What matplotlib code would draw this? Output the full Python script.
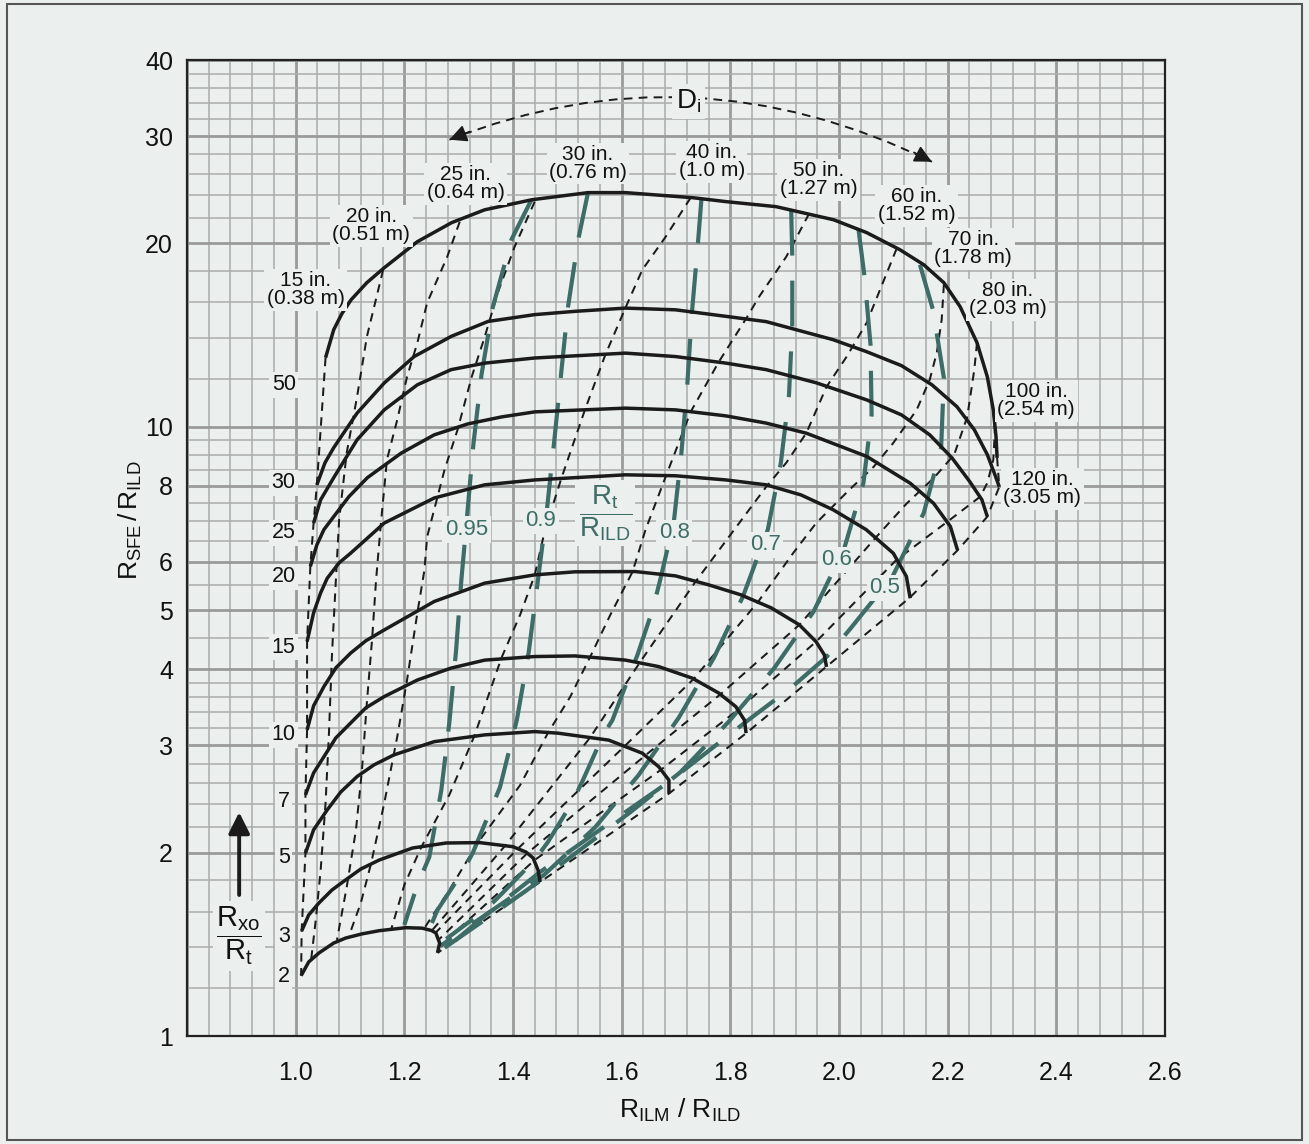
import matplotlib
matplotlib.use('Agg')
import matplotlib.pyplot as plt
import numpy as np
from matplotlib.patches import Rectangle, FancyArrowPatch, PathPatch
from matplotlib.path import Path
from matplotlib.ticker import NullLocator

plt.rcParams['font.family'] = ['Liberation Sans', 'DejaVu Sans']
plt.rcParams['mathtext.fontset'] = 'custom'
plt.rcParams['mathtext.rm'] = 'Liberation Sans'
plt.rcParams['mathtext.it'] = 'Liberation Sans'
plt.rcParams['mathtext.bf'] = 'Liberation Sans:bold'

BG = '#ebf0ee'
GREEN = '#3d6d66'
INK = '#1b1b1b'

# ---------------- data: Rxo/Rt curves (solid) ----------------
rxo_labels = ['2', '3', '5', '7', '10', '15', '20', '25', '30', '50']
rxo_label_y = [1.250, 1.459, 1.967, 2.43, 3.12, 4.35, 5.67, 6.70, 8.09, 11.72]

rxo2_x = [1.010, 1.024, 1.043, 1.070, 1.092, 1.122, 1.154, 1.203, 1.233, 1.250, 1.258, 1.265, 1.261]
rxo2_y = [1.256, 1.323, 1.369, 1.421, 1.448, 1.471, 1.489, 1.506, 1.503, 1.490, 1.476, 1.421, 1.369]
rxo3_x = [1.011, 1.024, 1.043, 1.067, 1.092, 1.120, 1.154, 1.215, 1.277, 1.339, 1.400, 1.424, 1.437, 1.446, 1.450]
rxo3_y = [1.487, 1.580, 1.654, 1.737, 1.804, 1.880, 1.945, 2.035, 2.074, 2.077, 2.045, 2.004, 1.960, 1.873, 1.790]
rxo5_x = [1.018, 1.033, 1.058, 1.083, 1.113, 1.144, 1.181, 1.255, 1.348, 1.440, 1.483, 1.576, 1.638, 1.668, 1.687, 1.687]
rxo5_y = [1.995, 2.180, 2.350, 2.515, 2.666, 2.786, 2.894, 3.042, 3.121, 3.160, 3.141, 3.060, 2.912, 2.768, 2.630, 2.502]
rxo7_x = [1.018, 1.033, 1.052, 1.074, 1.101, 1.129, 1.163, 1.224, 1.286, 1.348, 1.440, 1.514, 1.607, 1.668, 1.730, 1.779, 1.810, 1.826, 1.829]
rxo7_y = [2.487, 2.703, 2.874, 3.086, 3.263, 3.456, 3.607, 3.840, 4.017, 4.140, 4.196, 4.206, 4.140, 4.040, 3.867, 3.654, 3.473, 3.300, 3.141]
rxo10_x = [1.021, 1.033, 1.052, 1.074, 1.101, 1.129, 1.163, 1.255, 1.348, 1.440, 1.514, 1.625, 1.699, 1.760, 1.819, 1.875, 1.927, 1.958, 1.973, 1.977]
rxo10_y = [3.180, 3.483, 3.746, 4.021, 4.250, 4.453, 4.640, 5.167, 5.538, 5.714, 5.780, 5.786, 5.692, 5.503, 5.300, 5.045, 4.731, 4.436, 4.223, 4.035]
rxo15_x = [1.021, 1.033, 1.046, 1.058, 1.080, 1.101, 1.163, 1.255, 1.348, 1.440, 1.607, 1.699, 1.792, 1.866, 1.930, 1.989, 2.050, 2.100, 2.124, 2.131]
rxo15_y = [4.44, 4.95, 5.34, 5.64, 5.98, 6.20, 6.95, 7.64, 8.03, 8.18, 8.34, 8.31, 8.18, 8.03, 7.73, 7.31, 6.78, 6.20, 5.68, 5.23]
rxo20_x = [1.027, 1.039, 1.052, 1.070, 1.098, 1.132, 1.194, 1.255, 1.317, 1.379, 1.440, 1.607, 1.699, 1.792, 1.866, 1.940, 2.051, 2.131, 2.174, 2.205, 2.218]
rxo20_y = [5.90, 6.40, 6.78, 7.12, 7.68, 8.25, 9.05, 9.70, 10.11, 10.38, 10.58, 10.73, 10.66, 10.42, 10.14, 9.76, 8.94, 8.08, 7.49, 6.86, 6.28]
rxo25_x = [1.033, 1.046, 1.070, 1.113, 1.163, 1.224, 1.286, 1.348, 1.440, 1.607, 1.699, 1.792, 1.866, 1.958, 2.051, 2.115, 2.167, 2.208, 2.241, 2.263, 2.273]
rxo25_y = [6.95, 7.59, 8.25, 9.52, 10.66, 11.72, 12.41, 12.72, 12.97, 13.21, 13.04, 12.72, 12.41, 11.81, 11.07, 10.46, 9.70, 8.89, 8.12, 7.59, 7.12]
rxo30_x = [1.039, 1.054, 1.070, 1.113, 1.163, 1.218, 1.286, 1.354, 1.440, 1.514, 1.607, 1.699, 1.792, 1.866, 1.989, 2.051, 2.115, 2.171, 2.217, 2.249, 2.273, 2.287, 2.295]
rxo30_y = [8.03, 8.73, 9.24, 10.53, 11.80, 13.04, 14.07, 14.89, 15.28, 15.47, 15.66, 15.56, 15.18, 14.88, 13.90, 13.28, 12.60, 11.72, 10.79, 9.89, 9.00, 8.34, 7.97]
rxo50_x = [1.055, 1.063, 1.070, 1.085, 1.102, 1.131, 1.163, 1.224, 1.287, 1.348, 1.435, 1.538, 1.607, 1.731, 1.792, 1.884, 1.990, 2.051, 2.112, 2.156, 2.193, 2.223, 2.254, 2.273, 2.284, 2.289, 2.291]
rxo50_y = [12.98, 13.74, 14.43, 15.33, 16.16, 17.24, 18.24, 20.13, 21.63, 22.71, 23.59, 24.23, 24.23, 23.77, 23.42, 22.98, 21.87, 20.83, 19.53, 18.45, 17.24, 15.74, 13.74, 12.08, 10.66, 9.63, 8.89]

# ---------------- data: Di curves (black dashed) ----------------
di15_x = [1.055, 1.039, 1.033, 1.027, 1.021, 1.021, 1.018, 1.018, 1.011, 1.010]
di15_y = [12.98, 8.03, 6.95, 5.90, 4.44, 3.18, 2.49, 1.995, 1.487, 1.256]
di20_x = [1.161, 1.131, 1.113, 1.094, 1.080, 1.074, 1.067, 1.061, 1.055, 1.046, 1.037, 1.028]
di20_y = [18.10, 14.05, 11.20, 9.07, 7.04, 5.61, 4.26, 3.10, 2.41, 1.873, 1.551, 1.323]
di25_x = [1.302, 1.279, 1.242, 1.224, 1.205, 1.187, 1.168, 1.157, 1.148, 1.141, 1.131, 1.122, 1.111, 1.094, 1.076]
di25_y = [21.71, 19.02, 15.98, 13.74, 12.08, 10.27, 8.83, 6.96, 5.61, 4.52, 3.52, 2.73, 2.18, 1.757, 1.438]
di30_x = [1.440, 1.403, 1.372, 1.348, 1.324, 1.298, 1.274, 1.242, 1.237, 1.224, 1.205, 1.187, 1.163, 1.139, 1.120, 1.098]
di30_y = [23.42, 19.75, 16.60, 14.05, 12.08, 9.89, 8.50, 6.60, 5.82, 4.95, 3.84, 3.10, 2.41, 1.923, 1.654, 1.459]
di40_x = [1.727, 1.681, 1.638, 1.607, 1.570, 1.533, 1.490, 1.459, 1.440, 1.413, 1.379, 1.329, 1.283, 1.231, 1.200, 1.176]
di40_y = [23.77, 20.51, 18.10, 15.68, 13.13, 10.70, 8.28, 6.78, 5.71, 4.91, 4.18, 3.11, 2.49, 2.04, 1.77, 1.498]
di50_x = [1.945, 1.903, 1.853, 1.829, 1.779, 1.727, 1.681, 1.644, 1.620, 1.579, 1.542, 1.505, 1.464, 1.413, 1.335, 1.283, 1.237]
di50_y = [22.38, 19.02, 16.35, 15.05, 12.79, 10.58, 8.28, 6.78, 5.78, 4.91, 4.19, 3.60, 3.14, 2.58, 2.074, 1.737, 1.504]
di60_x = [2.106, 2.051, 2.014, 1.977, 1.940, 1.903, 1.866, 1.736, 1.634, 1.542, 1.385, 1.250]
di60_y = [19.60, 14.82, 13.03, 11.63, 9.77, 8.73, 7.97, 5.57, 4.11, 3.09, 2.05, 1.487]
di70_x = [2.193, 2.189, 2.180, 2.167, 2.143, 2.100, 2.064, 2.019, 1.958, 1.916, 1.851, 1.733, 1.607, 1.409, 1.257]
di70_y = [17.11, 14.99, 13.23, 11.95, 10.66, 9.41, 8.60, 7.88, 6.95, 6.21, 5.16, 3.86, 3.00, 2.03, 1.476]
di80_x = [2.254, 2.249, 2.236, 2.212, 2.175, 2.125, 2.069, 1.927, 1.782, 1.644, 1.427, 1.263]
di80_y = [13.74, 12.41, 10.38, 9.00, 8.25, 7.49, 6.60, 4.73, 3.64, 2.89, 1.998, 1.438]
di100_x = [2.284, 2.287, 2.284, 2.273, 2.260, 2.199, 2.106, 1.958, 1.814, 1.671, 1.440, 1.265]
di100_y = [10.66, 9.89, 8.83, 8.09, 7.68, 6.98, 6.05, 4.44, 3.43, 2.73, 1.945, 1.405]
di120_x = [2.291, 2.295, 2.273, 2.219, 2.130, 1.977, 1.829, 1.687, 1.450, 1.261]
di120_y = [8.89, 7.97, 7.12, 6.28, 5.24, 4.04, 3.14, 2.50, 1.79, 1.369]

di_labels = ['15 in.\n(0.38 m)', '20 in.\n(0.51 m)', '25 in.\n(0.64 m)', '30 in.\n(0.76 m)',
             '40 in.\n(1.0 m)', '50 in.\n(1.27 m)', '60 in.\n(1.52 m)', '70 in.\n(1.78 m)',
             '80 in.\n(2.03 m)', '100 in.\n(2.54 m)', '120 in.\n(3.05 m)']
di_label_x = [1.018, 1.139, 1.313, 1.538, 1.766, 1.962, 2.143, 2.247, 2.310, 2.363, 2.374]
di_label_y = [16.79, 21.38, 25.06, 27.04, 27.23, 25.44, 23.07, 19.60, 16.16, 11.03, 7.91]

# ---------------- data: Rt/RILD curves (green long dash) ----------------
rt095_x = [1.434, 1.397, 1.363, 1.342, 1.327, 1.316, 1.305, 1.295, 1.283, 1.268, 1.246, 1.224, 1.200]
rt095_y = [23.59, 20.28, 15.74, 12.17, 9.34, 7.22, 5.61, 4.27, 3.28, 2.53, 1.967, 1.77, 1.522]
rt09_x = [1.538, 1.520, 1.501, 1.488, 1.475, 1.462, 1.446, 1.429, 1.407, 1.376, 1.326, 1.307, 1.261, 1.246]
rt09_y = [24.23, 20.28, 15.68, 12.08, 9.31, 7.25, 5.61, 4.27, 3.30, 2.56, 1.998, 1.859, 1.610, 1.498]
rt08_x = [1.747, 1.740, 1.729, 1.721, 1.710, 1.696, 1.671, 1.657, 1.629, 1.614, 1.583, 1.566, 1.527, 1.509, 1.464, 1.440, 1.381, 1.351, 1.277]
rt08_y = [23.77, 19.83, 15.28, 11.80, 9.07, 6.98, 5.61, 5.01, 4.22, 3.90, 3.30, 3.12, 2.61, 2.42, 2.08, 1.945, 1.718, 1.616, 1.443]
rt07_x = [1.912, 1.914, 1.914, 1.908, 1.893, 1.869, 1.823, 1.770, 1.705, 1.631, 1.551, 1.457, 1.376, 1.266]
rt07_y = [22.71, 19.02, 14.71, 11.28, 8.73, 6.78, 5.26, 4.18, 3.33, 2.68, 2.20, 1.838, 1.641, 1.405]
rt06_x = [2.036, 2.047, 2.058, 2.060, 2.045, 2.010, 1.953, 1.881, 1.797, 1.708, 1.616, 1.523, 1.431, 1.348, 1.268]
rt06_y = [21.06, 17.63, 13.64, 10.46, 8.09, 6.33, 4.97, 4.02, 3.28, 2.71, 2.33, 2.02, 1.75, 1.551, 1.384]
rt05_x = [2.149, 2.173, 2.193, 2.188, 2.156, 2.099, 2.019, 1.977, 1.912, 1.829, 1.686, 1.560, 1.450, 1.357, 1.268]
rt05_y = [18.45, 15.56, 12.03, 9.24, 7.22, 5.69, 4.64, 4.19, 3.73, 3.28, 2.61, 2.18, 1.859, 1.598, 1.374]

rt_labels = ['0.95', '0.9', '0.8', '0.7', '0.6', '0.5']
rt_label_x = [1.314, 1.451, 1.697, 1.864, 1.995, 2.084]
rt_label_y = [6.78, 7.01, 6.70, 6.40, 6.05, 5.44]

# ---------------- axes ticks ----------------
x_ticks = [1.0, 1.2, 1.4, 1.6, 1.8, 2.0, 2.2, 2.4, 2.6]
x_tick_labels = ['1.0', '1.2', '1.4', '1.6', '1.8', '2.0', '2.2', '2.4', '2.6']
y_ticks = [1, 2, 3, 4, 5, 6, 8, 10, 20, 30, 40]
y_tick_labels = ['1', '2', '3', '4', '5', '6', '8', '10', '20', '30', '40']
y_major_grid = [1, 2, 3, 4, 5, 6, 8, 10, 20, 30, 40]
y_minor_grid = [1.2, 1.4, 1.6, 1.8, 2.2, 2.4, 2.6, 2.8, 3.2, 3.4, 3.6, 3.8,
                4.5, 5.5, 6.5, 7, 7.5, 8.5, 9, 9.5, 12, 14, 16, 18,
                22, 24, 26, 28, 32, 34, 36, 38]

# ---------------- figure ----------------
W, H = 1309, 1144
fig = plt.figure(figsize=(W / 100, H / 100), dpi=100, facecolor=BG)
ax = fig.add_axes([187 / W, 1 - 1036 / H, (1165 - 187) / W, (1036 - 60) / H])
ax.set_facecolor(BG)
ax.set_yscale('log')
ax.set_xlim(0.8, 2.6)
ax.set_ylim(1, 40)

# grid
xg = np.linspace(0.8, 2.6, 46)
for i, xv in enumerate(xg):
    major = (i % 5 == 0)
    ax.axvline(xv, color='#9a9a9a' if major else '#ababab', lw=2.0 if major else 1.1, zorder=0.5)
for yv in y_minor_grid:
    ax.axhline(yv, color='#ababab', lw=1.1, zorder=0.5)
for yv in y_major_grid:
    ax.axhline(yv, color='#9a9a9a', lw=2.0, zorder=0.6)

ax.set_xticks(x_ticks)
ax.set_xticklabels(x_tick_labels)
ax.set_yticks(y_ticks)
ax.set_yticklabels(y_tick_labels)
ax.yaxis.set_minor_locator(NullLocator())
ax.xaxis.set_minor_locator(NullLocator())
ax.tick_params(axis='both', length=0, labelsize=18, colors='#111111')
ax.tick_params(axis='x', pad=18)
ax.tick_params(axis='y', pad=10)
for s in ax.spines.values():
    s.set_color('#222222')
    s.set_linewidth(1.6)
    s.set_zorder(10)

# Di dashed curves
di_sets = [(di15_x, di15_y), (di20_x, di20_y), (di25_x, di25_y), (di30_x, di30_y),
           (di40_x, di40_y), (di50_x, di50_y), (di60_x, di60_y), (di70_x, di70_y),
           (di80_x, di80_y), (di100_x, di100_y), (di120_x, di120_y)]
for xs, ys in di_sets:
    ax.plot(xs, ys, color=INK, lw=1.45, linestyle=(0, (4.2, 3.2)), zorder=3)

# green Rt/RILD curves
rt_sets = [(rt095_x, rt095_y), (rt09_x, rt09_y), (rt08_x, rt08_y),
           (rt07_x, rt07_y), (rt06_x, rt06_y), (rt05_x, rt05_y)]
for xs, ys in rt_sets:
    ax.plot(xs, ys, color=GREEN, lw=3.0, linestyle=(0, (11, 6)), dash_capstyle='butt', zorder=4)

# solid Rxo/Rt curves
rxo_sets = [(rxo2_x, rxo2_y), (rxo3_x, rxo3_y), (rxo5_x, rxo5_y), (rxo7_x, rxo7_y),
            (rxo10_x, rxo10_y), (rxo15_x, rxo15_y), (rxo20_x, rxo20_y), (rxo25_x, rxo25_y),
            (rxo30_x, rxo30_y), (rxo50_x, rxo50_y)]
for xs, ys in rxo_sets:
    ax.plot(xs, ys, color=INK, lw=2.5, solid_joinstyle='round', solid_capstyle='butt', zorder=5)

box = dict(boxstyle='square,pad=0.12', fc=BG, ec='none')

# Rxo/Rt labels
for lab, yv in zip(rxo_labels, rxo_label_y):
    ax.text(0.978, yv, lab, ha='center', va='center', fontsize=15.5, color='#111111',
            bbox=box, zorder=8)

# Di labels
for lab, xv, yv in zip(di_labels, di_label_x, di_label_y):
    ax.text(xv, yv, lab, ha='center', va='center', fontsize=15, linespacing=0.92,
            color='#111111', bbox=box, zorder=8)

# Rt/RILD labels
for lab, xv, yv in zip(rt_labels, rt_label_x, rt_label_y):
    ax.text(xv, yv, lab, ha='center', va='center', fontsize=16, color=GREEN,
            bbox=box, zorder=8)
ax.text(1.570, 7.22, r'$\dfrac{\mathregular{R_t}}{\mathregular{R_{ILD}}}$', ha='center', va='center',
        fontsize=20, color=GREEN, bbox=box, zorder=8)

# Di arrow (dashed arc with heads)
arc = Path([(1.283, 29.6), (1.729, 42.4), (2.171, 27.23)], [Path.MOVETO, Path.CURVE3, Path.CURVE3])
ax.add_patch(PathPatch(arc, fc='none', ec=INK, lw=1.4, linestyle=(0, (4.5, 3.2)), zorder=6))
for tail, tip in [((1.320, 30.5), (1.283, 29.6)), ((2.138, 28.2), (2.171, 27.23))]:
    ax.add_patch(FancyArrowPatch(tail, tip, arrowstyle='-|>', mutation_scale=26,
                                 color=INK, lw=1.3, shrinkA=0, shrinkB=0, zorder=7))
ax.text(1.723, 34.2, r'$\mathregular{D_i}$', ha='center', va='center', fontsize=20,
        color='#111111', bbox=dict(boxstyle='square,pad=0.15', fc=BG, ec='none'), zorder=8)

# Rxo/Rt indicator at left
ax.add_patch(FancyArrowPatch((0.896, 1.704), (0.896, 2.33), arrowstyle='-|>', mutation_scale=32,
                             color=INK, lw=2.8, shrinkA=0, shrinkB=0, zorder=7))
ax.text(0.896, 1.459, r'$\dfrac{\mathregular{R_{xo}}}{\mathregular{R_t}}$', ha='center', va='center',
        fontsize=21, color='#111111', bbox=box, zorder=8)

# axis titles
fig.text(130 / W, 1 - 520 / H, r'$\mathregular{R_{SFE}\,/\,R_{ILD}}$', rotation=90,
         ha='center', va='center', fontsize=19, color='#111111')
fig.text(680 / W, 1 - 1110 / H, r'$\mathregular{R_{ILM}\ /\ R_{ILD}}$',
         ha='center', va='center', fontsize=19, color='#111111')

# outer frame
fig.add_artist(Rectangle((7 / W, 4 / H), (1302 - 7) / W, (1140 - 4) / H, transform=fig.transFigure,
                         fill=False, ec='#555555', lw=1.5))

fig.savefig('out.png', dpi=100, facecolor=BG)
